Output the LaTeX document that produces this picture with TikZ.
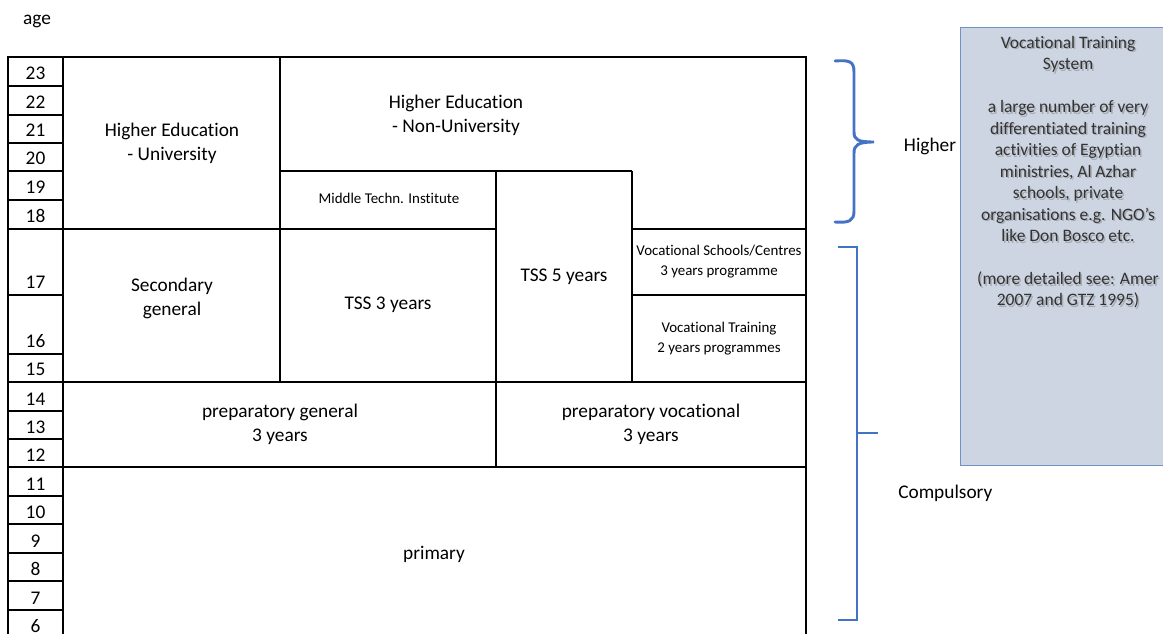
\documentclass[tikz,border=0pt]{standalone}
\usepackage{fontspec}
\setmainfont{Carlito}[RawFeature=-liga]
\definecolor{bracecol}{RGB}{68,114,196}
\definecolor{boxfill}{RGB}{205,213,227}
\definecolor{boxline}{RGB}{112,146,199}
\begin{document}
\begin{tikzpicture}[x=0.75pt,y=-0.75pt,
  grid/.style={line width=1.1pt, black},
  lbl/.style={font=\fontsize{14.5}{18}\selectfont, align=center, inner sep=0pt},
  smalllbl/.style={font=\fontsize{11.2}{15}\selectfont, align=center, inner sep=0pt},
  agelbl/.style={font=\fontsize{14.5}{16}\selectfont, anchor=base, inner sep=0pt},
  bracket/.style={draw=bracecol, line width=2.2pt},
  sidelbl/.style={font=\fontsize{14.5}{16}\selectfont, inner sep=0pt},
  boxtext/.style={font=\fontsize{13.1}{16.1}\selectfont, align=center, inner sep=0pt, anchor=north}]
\useasboundingbox (0,0) rectangle (1163,634);
\clip (0,0) rectangle (1163,634);

\node[sidelbl] (agehead) at (37,21) {age};

% outer frame and the age column
\draw[grid] (8,645) -- (8,57) -- (806,57) -- (806,645);
\draw[grid] (63,57) -- (63,645);
\foreach \n/\t/\b in {23/57/86, 22/86/115, 21/115/143, 20/143/171, 19/171/200,
    18/200/229, 17/229/295, 16/295/354, 15/354/382, 14/382/411, 13/411/439,
    12/439/467, 11/467/496, 10/496/524, 9/524/553, 8/553/581, 7/581/610}{
  \draw[grid] (8,\b) -- (63,\b);
  \node[agelbl] (a\n) at (35.5,{\b-6}) {\n};
}
\node[agelbl] (a6) at (35.5,632) {6};

% school blocks
\draw[grid] (63,229) -- (496,229);
\draw[grid] (632,229) -- (806,229);
\draw[grid] (63,382) -- (806,382);
\draw[grid] (63,467) -- (806,467);
\draw[grid] (280,57) -- (280,382);
\draw[grid] (280,171) -- (632,171);
\draw[grid] (496,171) -- (496,467);
\draw[grid] (632,171) -- (632,382);
\draw[grid] (632,295) -- (806,295);

\node[lbl] (heuni) at (172,143) {Higher Education\\- University};
\node[lbl] (henonuni) at (456,115) {Higher Education\\- Non-University};
\node[smalllbl] (mti) at (389,198) {Middle Techn. Institute};
\node[lbl] (tss5) at (564,277) {TSS 5 years};
\node[smalllbl] (vsc) at (719,262) {Vocational Schools/Centres\\3 years programme};
\node[smalllbl] (vt) at (719,339) {Vocational Training\\2 years programmes};
\node[lbl] (secgen) at (172,298) {Secondary\\general};
\node[lbl] (tss3) at (388,305) {TSS 3 years};
\node[lbl] (prepgen) at (280,424) {preparatory general\\3 years};
\node[lbl] (prepvoc) at (651,424) {preparatory vocational\\3 years};
\node[lbl] (primary) at (434,554) {primary};

% braces
\draw[bracket, line cap=round] (835,61) .. controls (849,60) and (854,61) .. (854,72)
  -- (854,132) .. controls (854,140) and (858,142) .. (874,142)
  .. controls (858,142) and (854,145) .. (854,153)
  -- (854,211) .. controls (854,221) and (849,223) .. (835,222);
\draw[bracket] (838,247) -- (857,247) -- (857,620) -- (838,620);
\draw[bracket] (857,433) -- (878,433);
\node[sidelbl] (higher) at (930,146) {Higher};
\node[sidelbl, anchor=west] (compulsory) at (898,493) {Compulsory};

% vocational training box
\node[draw=boxline, fill=boxfill, line width=1pt, anchor=north west,
  minimum width=162pt, minimum height=328.5pt, inner sep=0pt] (vts) at (960,27) {};
\node[boxtext, text=gray, opacity=0.5] (vtsshadow) at (1069.5,37.5) {Vocational Training\\System\\[16.1pt]
  a large number of very\\differentiated training\\activities of Egyptian\\ministries, Al Azhar\\schools, private\\organisations e.g. NGO's\\like Don Bosco etc.\\[16.1pt]
  (more detailed see: Amer\\2007 and GTZ 1995)};
\node[boxtext, text=black!80] (vtstext) at (1068,36) {Vocational Training\\System\\[16.1pt]
  a large number of very\\differentiated training\\activities of Egyptian\\ministries, Al Azhar\\schools, private\\organisations e.g. NGO's\\like Don Bosco etc.\\[16.1pt]
  (more detailed see: Amer\\2007 and GTZ 1995)};
\end{tikzpicture}
\end{document}
